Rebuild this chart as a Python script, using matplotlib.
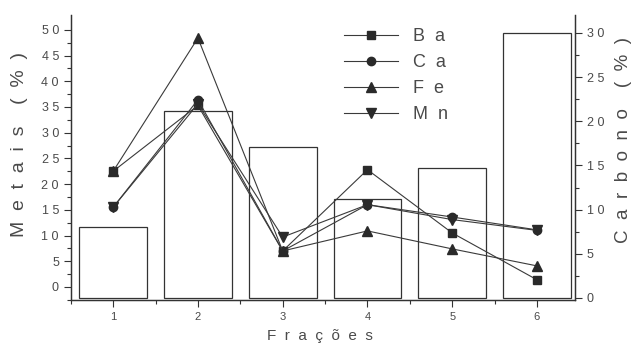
import numpy as np
import matplotlib.pyplot as plt

plt.rcParams['font.family'] = ['Liberation Sans', 'DejaVu Sans']

# dados
fracoes = [1, 2, 3, 4, 5, 6]
carbono = [8.0, 21.2, 17.1, 11.2, 14.7, 30.0]
ba = [22.5, 35.3, 7.0, 22.8, 10.5, 1.4]
ca = [15.5, 36.4, 7.0, 16.0, 13.6, 11.1]
fe = [22.5, 48.4, 7.0, 10.9, 7.4, 4.1]
mn = [15.5, 35.6, 9.7, 16.0, 13.1, 11.0]
yticks_esq = [0, 5, 10, 15, 20, 25, 30, 35, 40, 45, 50]
yticks_dir = [0, 5, 10, 15, 20, 25, 30]

cor_txt = '#4a4a4a'
cor_lin = '#3a3a3a'

def espacado(v, sep=' '):
    return sep.join(str(v))

fig = plt.figure(figsize=(6.32, 3.46), dpi=100)
ax = fig.add_axes([0.112, 0.133, 0.798, 0.824])
ax2 = ax.twinx()

# barras de carbono (eixo da direita)
ax2.bar(fracoes, carbono, width=0.8, facecolor='white', edgecolor='#333333', linewidth=0.9)
ax2.set_ylim(-0.23, 32.05)
ax2.set_yticks(yticks_dir)
ax2.set_yticks(np.arange(0, 32, 2.5), minor=True)
ax2.set_yticklabels([espacado(v) for v in yticks_dir], fontsize=9, color=cor_txt)

# metais (eixo da esquerda), por cima das barras
ax.set_zorder(ax2.get_zorder() + 1)
ax.patch.set_visible(False)
mk = dict(color=cor_lin, lw=0.8, mfc='#2a2a2a', mec='#2a2a2a')
ax.plot(fracoes, ba, marker='s', ms=5.5, label='B  a', **mk)
ax.plot(fracoes, ca, marker='o', ms=6, label='C  a', **mk)
ax.plot(fracoes, fe, marker='^', ms=6.5, label='F  e', **mk)
ax.plot(fracoes, mn, marker='v', ms=6.5, label='M  n', **mk)

ax.set_xlim(0.505, 6.45)
ax.set_ylim(-2.53, 52.9)
ax.set_xticks(fracoes)
ax.set_xticks(np.arange(0.5, 6.5, 0.5), minor=True)
ax.set_xticklabels([str(f) for f in fracoes], fontsize=8, color=cor_txt)
ax.set_yticks(yticks_esq)
ax.set_yticks(np.arange(-2.5, 52, 2.5), minor=True)
ax.set_yticklabels([espacado(v) for v in yticks_esq], fontsize=9, color=cor_txt)

# títulos dos eixos
fig.text(20 / 632, 1 - 145 / 346, 'M  e  t  a  i  s    (  %  )', rotation=90,
         ha='center', va='center', fontsize=14, color=cor_txt)
fig.text(623 / 632, 1 - 140 / 346, 'C  a  r  b  o  n  o    (  %  )', rotation=90,
         ha='center', va='center', fontsize=13.5, color=cor_txt)
fig.text(320 / 632, 1 - 336 / 346, 'F  r  a  ç  õ  e  s', ha='center', va='center',
         fontsize=11, color=cor_txt)

for a in (ax, ax2):
    a.tick_params(which='both', direction='out', color='#333333', width=0.8)
    a.tick_params(which='major', length=5)
    a.tick_params(which='minor', length=3)
    for s in a.spines.values():
        s.set_color('#333333')
        s.set_linewidth(0.9)
ax.spines['top'].set_visible(False)
ax2.spines['top'].set_visible(False)

leg = ax.legend(loc='upper left', bbox_to_anchor=(0.51, 1.01), frameon=False,
                fontsize=13, handlelength=3.0, labelspacing=0.5, handletextpad=0.8)
for t in leg.get_texts():
    t.set_color(cor_txt)

fig.savefig('out.png', dpi=100)
